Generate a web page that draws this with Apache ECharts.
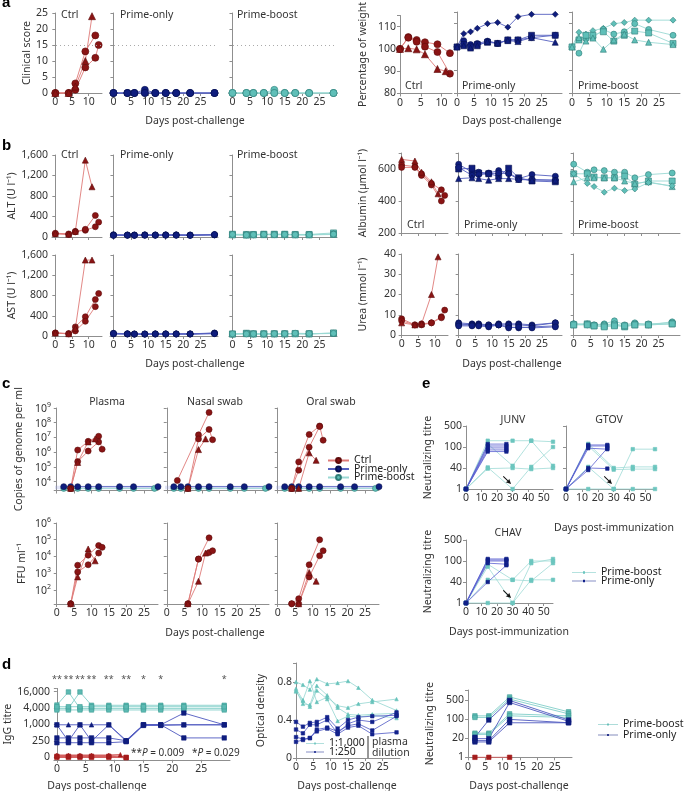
<!DOCTYPE html>
<html><head><meta charset="utf-8">
<script src="https://cdn.jsdelivr.net/npm/echarts@6/dist/echarts.min.js"></script>
<style>html,body{margin:0;padding:0;background:#fff}#c{width:685px;height:791px}</style>
</head><body><div id="c"></div>
<script>
// ================= DATA =================
// a: clinical score
const clinCtrlDaysA = [0, 4, 6, 9, 12];      const clinCtrlA = [0, 0, 3, 13, 18];
const clinCtrlDaysB = [0, 4, 6, 9, 12, 13];  const clinCtrlB = [0, 0, 1, 8, 11, 15];
const clinCtrlDaysC = [0, 4, 6, 9, 11];      const clinCtrlC = [0, 0, 2, 10, 24];
const clinDays = [0, 4, 6, 9, 12, 15, 18, 22, 29];
const clinPrimeOnly = [[0,0,0,1,0,0,0,0,0],[0,0,0,0,0,0,0,0,0],[0,0,0,0,0,0,0,0,0]];
const clinPrimeBoost = [[0,0,0,0,1,0,0,0,0],[0,0,0,0,0,0,0,0,0],[0,0,0,0,0,0,0,0,0]];
const clinThreshold = 15;
// a: weight
const wCtrlDaysAB = [0, 2, 4, 6, 9, 12];
const wCtrlA = [100, 105.3, 104, 103, 102.1, 98.1];
const wCtrlB = [100, 105, 103.2, 101, 98.6, 88.9];
const wCtrlDaysC = [0, 2, 4, 6, 9, 11];
const wCtrlC = [100, 100.3, 99.8, 97.6, 91, 90];
const wDays = [0, 2, 4, 6, 9, 12, 15, 18, 22, 29];
const wPrimeOnly = [
  [100,105.7,106.5,108,110,110.5,108.5,113,114,114],
  [100,102.7,101,101.5,102.5,101.5,103,103,104,105],
  [100,101,100,101,102,101.5,103,103,105,105],
  [100,100.5,99.5,100.5,102.3,101.7,102.7,102.3,104,102]];
const wPrimeBoost = [
  [100,106.3,105.5,107,108,110,110.5,111.5,111.5,111.5],
  [100,97.3,103.5,104,107.5,105.5,106.5,110,107.5,105],
  [100,103,105,105,106.5,102.5,105,106.8,106,101.5],
  [100,104,102.5,103.8,99,103,105.5,103,102,101]];
// b: ALT / AST / albumin / urea
const bCtrlDaysA = [0, 4, 6, 9, 12, 13];
const bCtrlDaysB = [0, 4, 6, 9, 12];
const bCtrlDaysC = [0, 4, 6, 9, 11];
const bDays = [0, 4, 6, 9, 12, 15, 18, 22, 29];
const altCtrlA = [60, 50, 110, 130, 200, 290];
const altCtrlB = [75, 60, 100, 150, 420];
const altCtrlC = [70, 55, 110, 1500, 980];
const altPrimeOnly = [[45,40,40,42,40,42,42,40,40],[35,35,35,38,36,38,38,35,45],[40,38,38,40,40,40,40,38,42],[30,32,30,32,33,33,33,30,50]];
const altPrimeBoost = [[55,50,50,55,55,55,50,50,80],[45,45,45,50,50,50,45,45,60],[40,35,40,45,45,45,40,40,50],[50,40,45,50,45,50,45,45,55]];
const astCtrlA = [60, 50, 180, 380, 720, 840];
const astCtrlB = [60, 40, 100, 290, 580];
const astCtrlC = [60, 45, 150, 1500, 1500];
const astPrimeOnly = [[55,45,40,40,42,42,42,42,60],[45,40,38,38,40,40,40,40,55],[40,38,35,35,38,38,38,38,50],[50,42,40,40,40,40,40,40,45]];
const astPrimeBoost = [[40,55,45,45,45,45,50,45,55],[35,50,40,40,42,42,45,42,50],[38,45,38,38,40,40,42,40,60],[42,40,42,42,45,45,55,48,52]];
const albCtrlA = [625, 615, 570, 510, 470, 435];
const albCtrlB = [610, 610, 560, 500, 400];
const albCtrlC = [660, 650, 580, 520, 445];
const albPrimeOnly = [[630,580,580,575,590,575,540,565,555],[600,605,575,570,555,605,545,525,520],[610,560,565,570,575,570,535,535,530],[540,545,540,530,540,540,535,530,530]];
const albPrimeBoost = [[630,580,595,590,580,580,545,565,575],[570,570,550,545,545,555,505,525,525],[520,545,545,545,545,525,510,520,490],[570,510,490,455,480,465,475,515,495]];
const ureaCtrlA = [8, 5, 5.5, 6, 9, 12.3];
const ureaCtrlB = [7, 5, 5, 6, 8.5];
const ureaCtrlC = [6, 5, 5.5, 20, 38.6];
const ureaPrimeOnly = [[6,5.5,5.5,5,5.5,5.5,5.5,5,6],[5,5,5,4.5,5,4,3.5,4,4.5],[5.5,5,5,5,5,5,5,4.5,6],[4.5,4.5,4.5,4,5,3.5,4,3.5,4]];
const ureaPrimeBoost = [[5.5,5.5,5,5.5,7,5,6,5,6.5],[5,5.5,4.5,4.5,5,4,5,5,5.5],[5.5,5,5,5,5.5,4.5,5.5,5.5,6],[5,5,4.5,4,4.5,4.5,5,5,5.5]];
// c: viral load (copies per ml) and FFU per ml
const cpDaysPO = [2, 4, 6, 9, 12, 18, 22, 29];
const cpDaysPB = [2, 4, 6, 9, 12, 18, 22, 28];
const cpPrimeOnly = [4600, 4600, 4600, 4600, 4600, 4600, 4600, 4600];
const cpPrimeBoost = [3500, 3500, 3500, 3500, 3500, 3500, 3500, 3500];
const cpPlasmaDays = [[4,6,9,12,13],[4,6,9,12],[4,6,9,11]];
const cpPlasma = [[3500,1.4e6,5.5e6,1.2e7,1.6e6],[3500,2.3e5,1.2e6,5e6],[3500,2e5,5e6,8e6]];
const cpNasalDays = [[3,9,12],[6,9,12,13],[6,9,11]];
const cpNasal = [[1.2e4,1.5e7,5e8],[3500,8e6,3.5e7,7e6],[3500,1.5e6,8e6]];
const cpOralDays = [[4,6,9,12,13],[4,6,9,12],[4,6,9,11]];
const cpOral = [[3500,2.2e5,1.6e7,6e7,6.5e6],[3500,6e4,2.2e6,5.5e7],[3500,3500,9e5,2.8e5]];
const ffuPlasmaDays = [[4,6,9,12,13],[4,6,9,12],[4,6,9,11]];
const ffuPlasma = [[15,3000,12000,45000,35000],[15,1200,3200,16000],[15,600,28000,5500]];
const ffuNasalDays = [[6,9,12],[6,9,12,13],[6,9,11]];
const ffuNasal = [[15,7000,130000],[15,7000,17000,22000],[15,330,16000]];
const ffuOralDays = [[4,6,9,12],[4,6,9,12,13],[6,9,11]];
const ffuOral = [[15,30,3200,100000],[15,15,600,11000,22000],[15,1100,330]];
// e: neutralizing titres after immunization
const eTickTitres = [1, 40, 100, 500];
const eDaysPB = [0, 14, 30, 42, 56];
const eDaysPO = [0, 14, 26];
const junvPrimeBoost = [[1,162,162,162,150],[1,127,44,162,44],[1,41,1,42,100],[1,36,40,33,40]];
const junvPrimeOnly = [[1,125,125],[1,108,108],[1,96,96],[1,88,88],[1,82,82]];
const gtovPrimeBoost = [[1,127,40,42,42],[1,108,30,33,33],[1,42,1,1,1],[1,1,1,91,91]];
const gtovPrimeOnly = [[1,117,117],[1,108,108],[1,95,91],[1,40,36],[1,28,95]];
const chavPrimeBoost = [[1,87,44,100,100],[1,78,1,91,117],[1,44,44,42,91],[1,1,1,44,44]];
const chavPrimeOnly = [[1,117,117],[1,108,108],[1,100,100],[1,91,87],[1,40,83]];
// d: IgG titre
const igTickValues = [64, 256, 1024, 4096, 16384];
const igTickText = ['0', '250', '1,000', '4,000', '16,000'];
const igDays = [0, 2, 4, 6, 9, 12, 15, 18, 22, 29];
const igPrimeBoost = [[5300,16000,4000,4000,4000,4000,4000,4000,4000,4000],[4000,4000,16000,5200,5200,5200,5200,5200,5200,5200],[3500,3500,3500,3500,3500,3500,3500,3500,3500,3500],[4600,4600,4600,4600,4600,4600,4600,4600,4600,4600]];
const igPrimeOnly = [[1000,250,1000,250,1000,250,1000,1000,2700,1000],[1000,1000,1000,1000,1000,270,1000,1000,1000,1000],[330,330,330,330,330,260,1000,1000,330,330],[220,220,220,220,220,240,950,950,1000,1000]];
const igCtrlDays = [[0,2,4,6,9,12],[0,2,4,6,9,12],[0,2,4,6,9,11]];
const igCtrl = [[64,64,64,64,64,64],[70,70,70,70,70,62],[76,76,76,76,76,80]];
const starDays = [0, 2, 4, 6, 9, 12, 15, 18, 29];
const starText = ['**','**','**','**','**','**','*','*','*'];
// d: optical density
const odDays = [0, 2, 4, 6, 9, 12, 15, 18, 22, 29];
const od1000 = [[0.80,0.77,0.72,0.83,0.78,0.79,0.81,0.74,0.61,0.50],[0.73,0.61,0.81,0.59,0.64,0.55,0.53,0.57,0.59,0.62],[0.71,0.57,0.56,0.76,0.66,0.53,0.46,0.45,0.46,0.47],[0.70,0.60,0.54,0.71,0.62,0.39,0.44,0.43,0.45,0.42]];
const od250 = [[0.38,0.33,0.37,0.38,0.43,0.31,0.40,0.43,0.44,0.45],[0.30,0.26,0.35,0.35,0.40,0.26,0.36,0.40,0.38,0.48],[0.22,0.20,0.21,0.30,0.32,0.28,0.34,0.36,0.29,0.44],[0.17,0.19,0.21,0.28,0.31,0.25,0.32,0.34,0.25,0.27]];
// d: neutralizing titre after challenge
const ntTickTitres = [1, 20, 100, 500];
const ntDays = [2, 6, 12, 29];
const ntCtrlDays = [2, 6, 12];
const ntCtrl = [1, 1, 1];
const ntPrimeBoost = [[135,135,670,190],[118,118,560,160],[31,31,160,135],[28,28,135,118]];
const ntPrimeOnly = [[22,95,500,95],[19,19,420,85],[14,14,100,75],[11.3,11.3,75,75]];

// ================= STYLE / HELPERS =================
const FONT = '"Noto Sans", sans-serif';
const TXT = '#333';
const AXC = '#8f8f8f';
const FS = 10.5;
const CT = { mk: '#8a1414', line: '#df7a78', bd: '#5e0b0b' };
const PO = { mk: '#0f1d7e', line: '#5560c0', bd: '#07104f' };
const PB = { mk: '#5fbfb8', line: '#9bd9d4', bd: '#2f7d78' };
const SYM4 = ['circle', 'rect', 'triangle', 'diamond'];
const ARROW = 'path://M5,0L10,7L6,6L6,15L4,15L4,6L0,7Z';
const LEG_ICON = 'path://M0,2.7H24V3.3H0Z M11,1.8H13V4.2H11Z';

const grid = [], xAxis = [], yAxis = [], series = [], legend = [], graphic = [];

function xv(min, max, ticks, showLabels) {
  return { type: 'value', min, max,
    axisLine: { show: true, onZero: false, lineStyle: { color: AXC, width: 1 } },
    axisTick: { show: true, length: 3, customValues: ticks, lineStyle: { color: AXC } },
    axisLabel: { show: showLabels, customValues: ticks, fontSize: FS, color: TXT, margin: 4 },
    splitLine: { show: false } };
}
function nameOpts(name, gap) {
  return { name: name || '', nameLocation: 'middle', nameGap: gap || 0, nameRotate: 90,
    nameTextStyle: { fontSize: FS, color: TXT } };
}
function yv(min, max, interval, showLabels, hideAbove, name, gap) {
  return Object.assign({ type: 'value', min, max, interval,
    axisLine: { show: true, lineStyle: { color: AXC, width: 1 } },
    axisTick: { show: true, length: 3, lineStyle: { color: AXC } },
    axisLabel: { show: showLabels, fontSize: FS, color: TXT, margin: 4, showMinLabel: true, showMaxLabel: true,
      formatter: v => (v > hideAbove + 1e-9 ? '' : v.toLocaleString('en-US')) },
    splitLine: { show: false } }, nameOpts(name, gap));
}
const powRich = { b: { fontSize: FS, color: TXT, lineHeight: 13, verticalAlign: 'bottom' },
                  s: { fontSize: 7, color: TXT, lineHeight: 8, verticalAlign: 'top' } };
function powLabel(v) {
  const e = Math.log10(v), r = Math.round(e);
  if (Math.abs(e - r) > 1e-3) return '';
  return '{b|10}{s|' + r + '}';
}
function ylog(min, max, base, fmt, rich, showLabels, name, gap) {
  return Object.assign({ type: 'log', logBase: base, min, max,
    axisLine: { show: true, lineStyle: { color: AXC, width: 1 } },
    axisTick: { show: true, length: 3, lineStyle: { color: AXC } },
    axisLabel: { show: showLabels, fontSize: FS, color: TXT, margin: 4, formatter: fmt, rich: rich },
    minorTick: { show: false }, splitLine: { show: false } }, nameOpts(name, gap));
}
function titreToPos(v, ticks) {
  if (v <= ticks[0]) return 0;
  for (let i = 1; i < ticks.length; i++) {
    if (v <= ticks[i] || i === ticks.length - 1) return (i - 1) + Math.log(v / ticks[i - 1]) / Math.log(ticks[i] / ticks[i - 1]);
  }
}
function ypos(ticks, max, showLabels, name, gap) {
  return Object.assign({ type: 'value', min: 0, max, interval: 1,
    axisLine: { show: true, lineStyle: { color: AXC, width: 1 } },
    axisTick: { show: true, length: 3, lineStyle: { color: AXC } },
    axisLabel: { show: showLabels, fontSize: FS, color: TXT, margin: 4,
      formatter: v => (Number.isInteger(v) && v < ticks.length ? String(ticks[v]) : '') },
    splitLine: { show: false } }, nameOpts(name, gap));
}
function panel(box, xa, ya) {
  const i = grid.length;
  grid.push({ left: box[0], top: box[1], width: box[2], height: box[3] });
  xa.gridIndex = i; ya.gridIndex = i;
  xAxis.push(xa); yAxis.push(ya);
  return i;
}
function addLine(gi, name, days, vals, st, sym, size, extra) {
  const s = { type: 'line', name, xAxisIndex: gi, yAxisIndex: gi,
    data: days.map((d, k) => [d, vals[k]]),
    symbol: sym, symbolSize: size, showSymbol: true, showAllSymbol: true,
    lineStyle: { color: st.line, width: st.lw || 0.9 },
    itemStyle: { color: st.mk, borderColor: st.bd, borderWidth: 0.6 },
    emphasis: { disabled: true }, animation: false, clip: false, silent: true };
  if (extra) Object.assign(s, extra);
  series.push(s);
  return s;
}
function ctrlSet(gi, daysList, valsList, size, extraFirst) {
  const syms = ['circle', 'circle', 'triangle'];
  daysList.forEach((d, k) => addLine(gi, 'Ctrl', d, valsList[k], CT, syms[k], size, k === 0 ? extraFirst : null));
}
function groupSet(gi, name, days, arrs, st, size, syms, extraFirst) {
  const sy = syms || SYM4;
  arrs.forEach((a, k) => addLine(gi, name, days, a, st, sy[k % sy.length], size, k === 0 ? extraFirst : null));
}
function txt(text, x, y, align, opts) {
  graphic.push({ type: 'text', x, y, silent: true, style: Object.assign({ text, fill: TXT, fontSize: FS,
    fontFamily: FONT, align: align || 'left', verticalAlign: 'middle' }, opts || {}) });
}
const thrLine = { markLine: { silent: true, symbol: 'none', animation: false, label: { show: false },
  lineStyle: { color: '#aaaaaa', type: [1, 3], width: 1 }, data: [{ yAxis: clinThreshold }] } };

const X14 = [0, 5, 10];
const X25 = [0, 5, 10, 15, 20, 25];

// ================= PANEL a =================
let g;
g = panel([52, 13, 50, 80], xv(-1, 14, X14, true), yv(0, 25, 5, true, 25, 'Clinical score', 19));
ctrlSet(g, [clinCtrlDaysA, clinCtrlDaysB, clinCtrlDaysC], [clinCtrlA, clinCtrlB, clinCtrlC], 7, thrLine);
g = panel([110, 13, 108, 80], xv(-1, 30, X25, true), yv(0, 25, 5, false, 25));
groupSet(g, 'Prime-only', clinDays, clinPrimeOnly, PO, 7, ['circle'], thrLine);
g = panel([229, 13, 108, 80], xv(-1, 30, X25, true), yv(0, 25, 5, false, 25));
groupSet(g, 'Prime-boost', clinDays, clinPrimeBoost, PB, 7, ['circle'], thrLine);

g = panel([400, 12, 52, 81.5], xv(0, 12.5, X14, true), yv(80, 115, 10, true, 110, 'Percentage of weight', 31));
addLine(g, 'Ctrl', wCtrlDaysAB, wCtrlA, CT, 'circle', 7);
addLine(g, 'Ctrl', wCtrlDaysAB, wCtrlB, CT, 'circle', 7);
addLine(g, 'Ctrl', wCtrlDaysC, wCtrlC, CT, 'triangle', 7);
g = panel([457, 12, 105, 81.5], xv(0, 31, X25, true), yv(80, 115, 10, false, 110));
groupSet(g, 'Prime-only', wDays, wPrimeOnly, PO, 6, ['diamond', 'circle', 'rect', 'triangle']);
g = panel([572, 12, 108, 81.5], xv(0, 31, X25, true), yv(80, 115, 10, false, 110));
groupSet(g, 'Prime-boost', wDays, wPrimeBoost, PB, 6, ['diamond', 'circle', 'rect', 'triangle']);

// ================= PANEL b =================
const bCtrlDays = [bCtrlDaysA, bCtrlDaysB, bCtrlDaysC];
g = panel([52, 155, 50, 82], xv(-1, 14, X14, false), yv(0, 1600, 400, true, 1600, 'ALT (U l\u207B\u00B9)', 34));
ctrlSet(g, bCtrlDays, [altCtrlA, altCtrlB, altCtrlC], 6);
g = panel([110, 155, 108, 82], xv(-1, 30, X25, false), yv(0, 1600, 400, false, 1600));
groupSet(g, 'Prime-only', bDays, altPrimeOnly, PO, 6, ['circle']);
g = panel([229, 155, 108, 82], xv(-1, 30, X25, false), yv(0, 1600, 400, false, 1600));
groupSet(g, 'Prime-boost', bDays, altPrimeBoost, PB, 6, ['rect', 'circle', 'rect', 'circle']);

g = panel([52, 255, 50, 81], xv(-1, 14, X14, true), yv(0, 1600, 400, true, 1600, 'AST (U l\u207B\u00B9)', 34));
ctrlSet(g, bCtrlDays, [astCtrlA, astCtrlB, astCtrlC], 6);
g = panel([110, 255, 108, 81], xv(-1, 30, X25, true), yv(0, 1600, 400, false, 1600));
groupSet(g, 'Prime-only', bDays, astPrimeOnly, PO, 6, ['circle']);
g = panel([229, 255, 108, 81], xv(-1, 30, X25, true), yv(0, 1600, 400, false, 1600));
groupSet(g, 'Prime-boost', bDays, astPrimeBoost, PB, 6, ['rect', 'circle', 'rect', 'circle']);

g = panel([400, 153, 48, 80], xv(-0.5, 14, X14, false), yv(200, 700, 200, true, 600, 'Albumin (\u00B5mol l\u207B\u00B9)', 31));
ctrlSet(g, bCtrlDays, [albCtrlA, albCtrlB, albCtrlC], 6);
g = panel([457, 153, 105, 80], xv(-0.5, 31, X25, false), yv(200, 700, 200, false, 600));
groupSet(g, 'Prime-only', bDays, albPrimeOnly, PO, 6, ['circle', 'rect', 'circle', 'triangle']);
g = panel([572, 153, 108, 80], xv(-0.5, 31.3, X25, false), yv(200, 700, 200, false, 600));
groupSet(g, 'Prime-boost', bDays, albPrimeBoost, PB, 6, ['circle', 'rect', 'triangle', 'diamond']);

g = panel([400, 254, 48, 81], xv(-0.5, 14, X14, true), yv(0, 40, 10, true, 40, 'Urea (mmol l\u207B\u00B9)', 31));
ctrlSet(g, bCtrlDays, [ureaCtrlA, ureaCtrlB, ureaCtrlC], 6);
g = panel([457, 254, 105, 81], xv(-0.5, 31, X25, true), yv(0, 40, 10, false, 40));
groupSet(g, 'Prime-only', bDays, ureaPrimeOnly, PO, 6, ['circle']);
g = panel([572, 254, 108, 81], xv(-0.5, 31.3, X25, true), yv(0, 40, 10, false, 40));
groupSet(g, 'Prime-boost', bDays, ureaPrimeBoost, PB, 6, ['circle', 'rect', 'circle', 'rect']);

// ================= PANEL c =================
const lodBand = { markArea: { silent: true, animation: false, itemStyle: { color: 'rgba(150,160,230,0.28)' },
  data: [[{ yAxis: 3000 }, { yAxis: 5200 }]] } };
const cpBoxes = [55, 165, 276];
const cpWidths = [103, 104, 103];
const cpCtrlDays = [cpPlasmaDays, cpNasalDays, cpOralDays];
const cpCtrlVals = [cpPlasma, cpNasal, cpOral];
const ffuCtrlDays = [ffuPlasmaDays, ffuNasalDays, ffuOralDays];
const ffuCtrlVals = [ffuPlasma, ffuNasal, ffuOral];
for (let k = 0; k < 3; k++) {
  g = panel([cpBoxes[k], 408, cpWidths[k], 82.5], xv(-0.5, 29, X25, false),
    ylog(2512, 1e9, 10, powLabel, powRich, k === 0, k === 0 ? 'Copies of genome per ml' : '', 30));
  addLine(g, 'Prime-boost', cpDaysPB, cpPrimeBoost, PB, 'circle', 6);
  addLine(g, 'Prime-only', cpDaysPO, cpPrimeOnly, PO, 'circle', 6, lodBand);
  ctrlSet(g, cpCtrlDays[k], cpCtrlVals[k], 6);
  g = panel([cpBoxes[k], 523, cpWidths[k], 81], xv(-0.5, 29, X25, true),
    ylog(14.5, 1e6, 10, powLabel, powRich, k === 0, k === 0 ? 'FFU ml\u207B\u00B9' : '', 27));
  ctrlSet(g, ffuCtrlDays[k], ffuCtrlVals[k], 6);
}

// ================= PANEL e =================
const EPB = { mk: '#6cc6bf', line: '#9edbd6', bd: '#6cc6bf', lw: 0.8 };
const EPO = { mk: '#10208a', line: '#5a5fd0', bd: '#10208a', lw: 0.8 };
const arrowMark = (x, y) => ({ markPoint: { silent: true, animation: false, label: { show: false },
  itemStyle: { color: '#111' }, data: [{ coord: [x, y], symbol: ARROW, symbolSize: [5, 11], symbolRotate: -135 }] } });
const ePanels = [
  { box: [466, 426, 87, 63], pb: junvPrimeBoost, po: junvPrimeOnly, lab: true },
  { box: [566, 426, 89, 63], pb: gtovPrimeBoost, po: gtovPrimeOnly, lab: false },
  { box: [466, 540, 87, 63], pb: chavPrimeBoost, po: chavPrimeOnly, lab: true }];
ePanels.forEach(p => {
  g = panel(p.box, xv(0, 56, [0, 10, 20, 30, 40, 50], true), ypos(eTickTitres, 3, p.lab, p.lab ? 'Neutralizing titre' : '', 32));
  p.pb.forEach((a, k) => addLine(g, 'Prime-boost ', eDaysPB, a.map(v => titreToPos(v, eTickTitres)), EPB, 'rect', 3.5, k === 0 ? arrowMark(26.5, 0.42) : null));
  p.po.forEach(a => addLine(g, 'Prime-only ', eDaysPO, a.map(v => titreToPos(v, eTickTitres)), EPO, 'rect', 3.5));
});

// ================= PANEL d =================
const igFmt = v => { for (let i = 0; i < igTickValues.length; i++) if (Math.abs(v - igTickValues[i]) / igTickValues[i] < 0.01) return igTickText[i]; return ''; };
g = panel([54, 688.4, 176, 71.4], xv(-0.5, 30, X25, true), ylog(52, 21619, 4, igFmt, null, true, 'IgG titre', 38));
const DPB = { mk: '#5cbab3', line: '#8fd4cf', bd: '#3f9d96', lw: 1 };
const DPO = { mk: '#0f1d7e', line: '#4e58c0', bd: '#0f1d7e', lw: 0.9 };
const DCT = { mk: '#a51c1c', line: '#d46060', bd: '#a51c1c', lw: 1.5 };
igPrimeBoost.forEach(a => addLine(g, 'Prime-boost ', igDays, a, DPB, 'rect', 4.5));
igPrimeOnly.forEach((a, k) => addLine(g, 'Prime-only ', igDays, a, DPO, k === 1 ? 'triangle' : 'rect', 4.5));
igCtrl.forEach((a, k) => addLine(g, 'Ctrl', igCtrlDays[k], a, DCT, k === 2 ? 'triangle' : 'rect', 4.5));
series.push({ type: 'scatter', xAxisIndex: g, yAxisIndex: g, clip: false, silent: true, animation: false,
  data: starDays.map((d, k) => [d, 46000, starText[k]]), symbolSize: 1, itemStyle: { color: 'rgba(0,0,0,0)' },
  label: { show: true, position: 'inside', formatter: p => p.value[2], fontSize: 9, color: '#222' } });

g = panel([296, 663, 104, 95], xv(0, 30, X25, true), yv(0, 1, 0.4, true, 0.8, 'Optical density', 29));
const OD1 = { mk: '#66c2bb', line: '#93d6d1', bd: '#66c2bb', lw: 0.8 };
const OD2 = { mk: '#13228c', line: '#4d57c4', bd: '#13228c', lw: 0.8 };
od1000.forEach(a => addLine(g, '1:1,000', odDays, a, OD1, 'triangle', 3.5));
od250.forEach(a => addLine(g, '1:250', odDays, a, OD2, 'rect', 3.5));

g = panel([468, 690, 104, 67.3], xv(0, 30, X25, true), ypos(ntTickTitres, 3.55, true, 'Neutralizing titre', 32));
ntPrimeBoost.forEach(a => addLine(g, 'Prime-boost  ', ntDays, a.map(v => titreToPos(v, ntTickTitres)), DPB, 'rect', 4.5));
ntPrimeOnly.forEach(a => addLine(g, 'Prime-only  ', ntDays, a.map(v => titreToPos(v, ntTickTitres)), DPO, 'rect', 4.5));
addLine(g, 'Ctrl', ntCtrlDays, ntCtrl.map(v => titreToPos(v, ntTickTitres)), { mk: '#a51c1c', line: '#d46060', bd: '#a51c1c' }, 'rect', 4.5);

// ================= LEGENDS =================
const legBase = { orient: 'vertical', selectedMode: false, animation: false, padding: 0,
  textStyle: { fontSize: FS, color: '#222' } };
const flatIcon = { icon: LEG_ICON, itemStyle: { borderWidth: 0 }, lineStyle: { width: 0 } };
legend.push(Object.assign({}, legBase, { left: 327, top: 455, itemWidth: 21, itemHeight: 6, itemGap: -2.5,
  data: ['Ctrl', 'Prime-only', 'Prime-boost'] }));
legend.push(Object.assign({}, legBase, flatIcon, { left: 572, top: 567, itemWidth: 24, itemHeight: 3, itemGap: -2.5,
  data: ['Prime-boost ', 'Prime-only '] }));
legend.push(Object.assign({}, legBase, flatIcon, { left: 598, top: 719, itemWidth: 20, itemHeight: 2.5, itemGap: -0.5,
  data: ['Prime-boost  ', 'Prime-only  '] }));
legend.push(Object.assign({}, legBase, flatIcon, { left: 306, top: 738, itemWidth: 18, itemHeight: 2.3, itemGap: -2.5,
  data: ['1:1,000', '1:250'] }));

// ================= TEXT =================
const LET = { fontSize: 15, fontWeight: 'bold', fontFamily: '"Liberation Sans", sans-serif', fill: '#000' };
txt('a', 2, 3, 'left', LET); txt('b', 2, 146, 'left', LET); txt('c', 2, 384, 'left', LET);
txt('e', 422, 384, 'left', LET); txt('d', 2, 665, 'left', LET);
[['Ctrl', 61, 15.5], ['Prime-only', 120, 15.5], ['Prime-boost', 237, 15.5],
 ['Ctrl', 405, 86], ['Prime-only', 462, 86], ['Prime-boost', 578, 86],
 ['Ctrl', 61, 155], ['Prime-only', 120, 155], ['Prime-boost', 237, 155],
 ['Ctrl', 407, 225], ['Prime-only', 464, 225], ['Prime-boost', 578, 225]].forEach(t => txt(t[0], t[1], t[2], 'left'));
[['Days post-challenge', 195, 121], ['Days post-challenge', 512, 121],
 ['Days post-challenge', 195, 364], ['Days post-challenge', 512, 364],
 ['Plasma', 107, 402], ['Nasal swab', 215, 402], ['Oral swab', 331, 402],
 ['Days post-challenge', 215, 633],
 ['JUNV', 513, 420], ['GTOV', 609, 420], ['CHAV', 508, 533],
 ['Days post-immunization', 614, 528], ['Days post-immunization', 509, 632],
 ['Days post-challenge', 97, 786], ['Days post-challenge', 347, 786], ['Days post-challenge', 519, 786]].forEach(t => txt(t[0], t[1], t[2], 'center'));
txt('**{i|P} = 0.009   *{i|P} = 0.029', 131, 753, 'left', { fontSize: 10, rich: { i: { fontStyle: 'italic', fontSize: 10, fontFamily: FONT, fill: TXT } } });
txt('plasma', 372, 742, 'left'); txt('dilution', 372, 753, 'left');
graphic.push({ type: 'line', silent: true, shape: { x1: 368, y1: 736, x2: 368, y2: 759 }, style: { stroke: '#333', lineWidth: 1 } });

const chart = echarts.init(document.getElementById('c'), null, { renderer: 'canvas', width: 685, height: 791 });
chart.setOption({ animation: false, backgroundColor: '#fff', textStyle: { fontFamily: FONT },
  grid, xAxis, yAxis, series, legend, graphic });
</script></body></html>
